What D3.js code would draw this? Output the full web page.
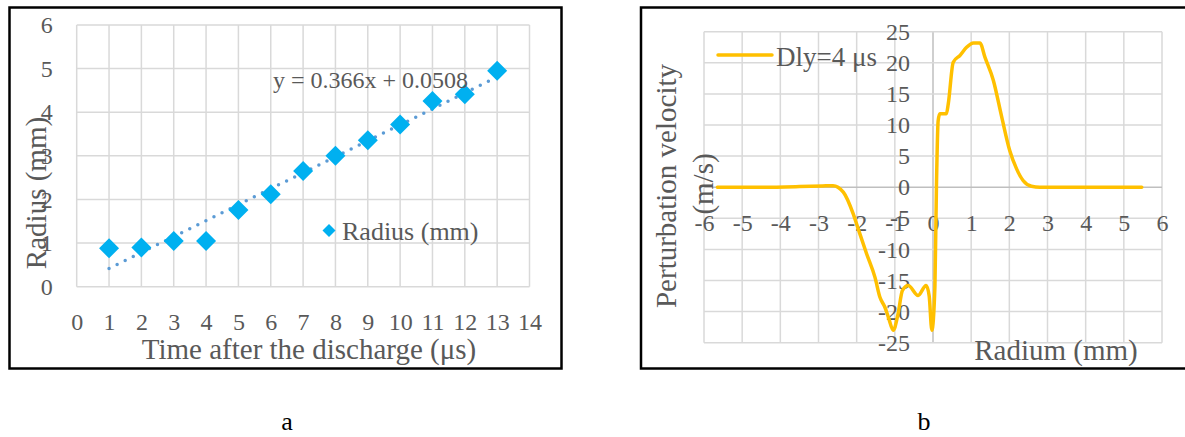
<!DOCTYPE html>
<html>
<head>
<meta charset="utf-8">
<script src="https://cdn.jsdelivr.net/npm/d3@7"></script>
<style>
  body { margin: 0; background: #fff; }
  text { font-family: "Liberation Serif", "Times New Roman", serif; fill: #595959; }
</style>
</head>
<body>
<div id="chart"></div>
<script>
// data, chart a
const time_us = [1, 2, 3, 4, 5, 6, 7, 8, 9, 10, 11, 12, 13];
const radius_mm = [0.88, 0.9, 1.05, 1.05, 1.76, 2.12, 2.65, 3.0, 3.36, 3.72, 4.26, 4.41, 4.95];
const trend_slope = 0.366;
const trend_intercept = 0.0508;
const a_x_ticks = [0, 1, 2, 3, 4, 5, 6, 7, 8, 9, 10, 11, 12, 13, 14];
const a_y_ticks = [0, 1, 2, 3, 4, 5, 6];

// data, chart b
const radium_mm = [-5.65, -4.5, -3.5, -2.9, -2.62, -2.35, -2.09, -1.96, -1.74, -1.52, -1.39, -1.26, -1.17, -1.04,
  -0.92, -0.8, -0.65, -0.39, -0.18, -0.1, -0.03, 0.05, 0.09, 0.135, 0.18, 0.35, 0.4, 0.53, 0.71, 0.88, 1.06,
  1.23, 1.36, 1.58, 1.8, 2.01, 2.19, 2.36, 2.58, 2.8, 4.0, 5.47];
const velocity = [0, 0, 0.1, 0.2, 0.25, -0.8, -4.3, -6.7, -10.7, -14.5, -17.7, -19.3, -20.9, -23.0,
  -20.5, -16.6, -15.8, -17.4, -15.8, -17.5, -23.0, -16, 0, 10.7, 11.8, 11.8, 13.4, 20.1, 21.2, 22.5, 23.2,
  23.2, 20.9, 17.2, 11.3, 5.9, 2.95, 1.07, 0.15, 0, 0, 0];
const b_x_ticks = [-6, -5, -4, -3, -2, -1, 0, 1, 2, 3, 4, 5, 6];
const b_y_ticks = [-25, -20, -15, -10, -5, 0, 5, 10, 15, 20, 25];

const width = 1185, height = 437;
const grid_color = "#d9d9d9";
const plain = d => String(d);

const svg = d3.select("#chart")
  .append("svg")
  .attr("width", width)
  .attr("height", height);

//frames
svg.append("rect").attr("x", 9.5).attr("y", 7.5).attr("width", 552).attr("height", 361)
  .attr("fill", "none").attr("stroke", "#000").attr("stroke-width", 2.5);
svg.append("rect").attr("x", 641).attr("y", 7.5).attr("width", 560).attr("height", 361)
  .attr("fill", "none").attr("stroke", "#000").attr("stroke-width", 2.5);

// ---------- chart a ----------
const xa = d3.scaleLinear().domain([0, 14]).range([76.7, 529.5]);
const ya = d3.scaleLinear().domain([0, 6]).range([286.7, 25]);

const ga = svg.append("g");

ga.selectAll(".vgrid").data(a_x_ticks).join("line")
  .attr("x1", d => xa(d)).attr("x2", d => xa(d))
  .attr("y1", ya(0)).attr("y2", ya(6))
  .attr("stroke", grid_color).attr("stroke-width", 1.5);
ga.selectAll(".hgrid").data(a_y_ticks).join("line")
  .attr("x1", xa(0)).attr("x2", xa(14))
  .attr("y1", d => ya(d)).attr("y2", d => ya(d))
  .attr("stroke", grid_color).attr("stroke-width", 1.5);

const ax_a = ga.append("g")
  .attr("transform", `translate(0, ${ya(0)})`)
  .call(d3.axisBottom(xa).tickValues(a_x_ticks).tickFormat(plain).tickSize(0));
ax_a.select(".domain").remove();
ax_a.selectAll("text").attr("y", 35).attr("dy", "0.35em")
  .style("font-size", "24px").attr("fill", "#595959");

const ay_a = ga.append("g")
  .attr("transform", `translate(${xa(0)}, 0)`)
  .call(d3.axisLeft(ya).tickValues(a_y_ticks).tickFormat(plain).tickSize(0).tickPadding(24));
ay_a.select(".domain").remove();
ay_a.selectAll("text").style("font-size", "24px").attr("fill", "#595959");

//trendline
ga.append("line")
  .attr("x1", xa(time_us[0])).attr("y1", ya(trend_slope * time_us[0] + trend_intercept))
  .attr("x2", xa(time_us[time_us.length - 1]))
  .attr("y2", ya(trend_slope * time_us[time_us.length - 1] + trend_intercept))
  .attr("stroke", "#5b9bd5").attr("stroke-width", 3.5)
  .attr("stroke-linecap", "round").attr("stroke-dasharray", "0 9");

//markers
const diamond = d3.symbol().type(d3.symbolSquare).size(200);
ga.selectAll(".pt").data(time_us).join("path")
  .attr("d", diamond)
  .attr("transform", (d, i) => `translate(${xa(d)}, ${ya(radius_mm[i])}) rotate(45)`)
  .attr("fill", "#00b0f0");

ga.append("text").attr("x", 273).attr("y", 80).attr("dy", "0.35em")
  .style("font-size", "24px")
  .text(`y = ${trend_slope}x + ${trend_intercept}`);

//legend a
ga.append("path").attr("d", d3.symbol().type(d3.symbolSquare).size(85))
  .attr("transform", "translate(329, 230.5) rotate(45)").attr("fill", "#00b0f0");
ga.append("text").attr("x", 342).attr("y", 231).attr("dy", "0.35em")
  .style("font-size", "26px").text("Radius (mm)");

//titles a
ga.append("text").attr("x", 309).attr("y", 349).attr("dy", "0.35em")
  .attr("text-anchor", "middle").style("font-size", "29px")
  .text("Time after the discharge (μs)");
ga.append("text").attr("transform", "translate(36, 193) rotate(-90)")
  .attr("dy", "0.35em").attr("text-anchor", "middle").style("font-size", "29px")
  .text("Radius (mm)");

// ---------- chart b ----------
const xb = d3.scaleLinear().domain([-6, 6]).range([704, 1162]);
const yb = d3.scaleLinear().domain([-25, 25]).range([342.7, 31.7]);

const gb = svg.append("g");

gb.selectAll(".vgrid").data(b_x_ticks).join("line")
  .attr("x1", d => xb(d)).attr("x2", d => xb(d))
  .attr("y1", yb(-25)).attr("y2", yb(25))
  .attr("stroke", d => d === 0 ? "#bfbfbf" : grid_color).attr("stroke-width", 1.5);
gb.selectAll(".hgrid").data(b_y_ticks).join("line")
  .attr("x1", xb(-6)).attr("x2", xb(6))
  .attr("y1", d => yb(d)).attr("y2", d => yb(d))
  .attr("stroke", d => d === 0 ? "#bfbfbf" : grid_color).attr("stroke-width", 1.5);

const ax_b = gb.append("g")
  .attr("transform", `translate(0, ${yb(0)})`)
  .call(d3.axisBottom(xb).tickValues(b_x_ticks).tickFormat(plain).tickSize(0));
ax_b.select(".domain").remove();
ax_b.selectAll("text").attr("y", 35).attr("dy", "0.35em")
  .style("font-size", "24px").attr("fill", "#595959");

const ay_b = gb.append("g")
  .attr("transform", `translate(${xb(0)}, 0)`)
  .call(d3.axisLeft(yb).tickValues(b_y_ticks).tickFormat(plain).tickSize(0).tickPadding(23));
ay_b.select(".domain").remove();
ay_b.selectAll("text").style("font-size", "24px").attr("fill", "#595959");

//curve
const line_b = d3.line()
  .x((d, i) => xb(radium_mm[i]))
  .y(d => yb(d))
  .curve(d3.curveMonotoneX);
gb.append("path").datum(velocity)
  .attr("d", line_b)
  .attr("fill", "none").attr("stroke", "#ffc000").attr("stroke-width", 3.5)
  .attr("stroke-linejoin", "round").attr("stroke-linecap", "round");

//legend b
gb.append("line").attr("x1", 718).attr("x2", 772).attr("y1", 55).attr("y2", 55)
  .attr("stroke", "#ffc000").attr("stroke-width", 3.5).attr("stroke-linecap", "round");
gb.append("text").attr("x", 776).attr("y", 57).attr("dy", "0.35em")
  .style("font-size", "27px").text("Dly=4 μs");

//titles b
gb.append("text").attr("x", 1056).attr("y", 350).attr("dy", "0.35em")
  .attr("text-anchor", "middle").style("font-size", "29px").text("Radium (mm)");
gb.append("text").attr("transform", "translate(666, 186) rotate(-90)")
  .attr("dy", "0.35em").attr("text-anchor", "middle").style("font-size", "29px")
  .text("Perturbation velocity");
gb.append("text").attr("transform", "translate(703, 184) rotate(-90)")
  .attr("dy", "0.35em").attr("text-anchor", "middle").style("font-size", "29px")
  .text("(m/s)");

//panel labels
svg.append("text").attr("x", 287).attr("y", 421).attr("dy", "0.35em")
  .attr("text-anchor", "middle").style("font-size", "26px").style("fill", "#000").text("a");
svg.append("text").attr("x", 924).attr("y", 421).attr("dy", "0.35em")
  .attr("text-anchor", "middle").style("font-size", "26px").style("fill", "#000").text("b");
</script>
</body>
</html>
